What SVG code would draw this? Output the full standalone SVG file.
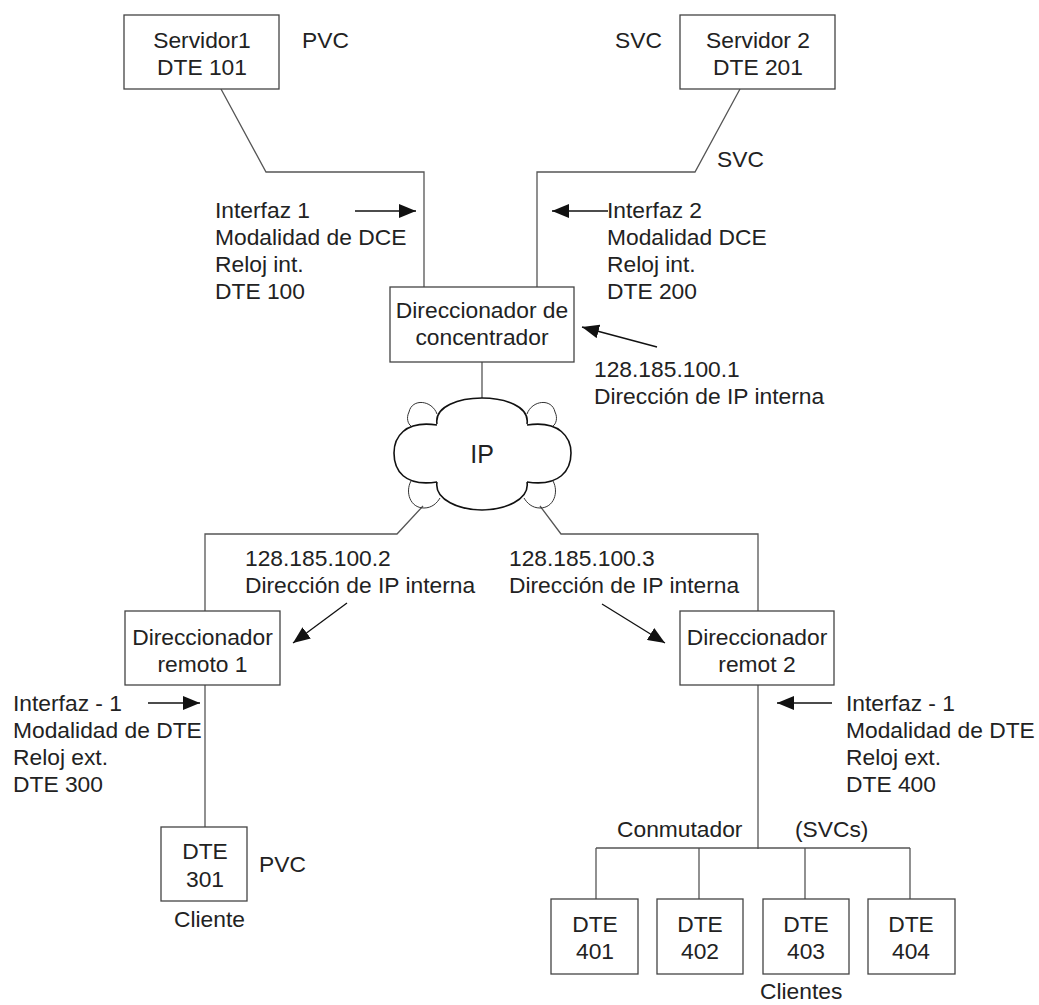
<svg xmlns="http://www.w3.org/2000/svg" width="1039" height="1005" viewBox="0 0 1039 1005">
<defs>
<marker id="ah" markerUnits="userSpaceOnUse" markerWidth="17" markerHeight="14" refX="17" refY="7" orient="auto">
<path d="M0,0 L17,7 L0,14 z" fill="#111"/>
</marker>
<style>
text{font-family:"Liberation Sans",Arial,Helvetica,sans-serif;font-size:22.8px;fill:#222}
.c{text-anchor:middle}
.box{fill:#fff;stroke:#444;stroke-width:1.3}
.ln{fill:none;stroke:#555;stroke-width:1.3}
.ar{fill:none;stroke:#111;stroke-width:1.3;marker-end:url(#ah)}
.cl{fill:none;stroke:#111;stroke-width:1.6}
.cl2{fill:none;stroke:#333;stroke-width:1}
</style>
</defs>
<rect width="1039" height="1005" fill="#fff"/>

<g id="connectors">
<polyline class="ln" points="221,89 266,172 424,172 424,287"/>
<polyline class="ln" points="740,89 695,172 537,172 537,287"/>
<line class="ln" x1="482" y1="362" x2="482" y2="398"/>
<polyline class="ln" points="423,506 397,534 205,534 205,611"/>
<polyline class="ln" points="540,506 561,534 758,534 758,611"/>
<line class="ln" x1="205" y1="685" x2="205" y2="827"/>
<line class="ln" x1="758" y1="685" x2="758" y2="849"/>
<line class="ln" x1="596" y1="848" x2="910" y2="848"/>
<line class="ln" x1="596" y1="848" x2="596" y2="899"/>
<line class="ln" x1="699" y1="848" x2="699" y2="899"/>
<line class="ln" x1="805" y1="848" x2="805" y2="899"/>
<line class="ln" x1="910" y1="848" x2="910" y2="899"/>
<line class="ar" x1="355" y1="211" x2="416" y2="211"/>
<line class="ar" x1="608" y1="211" x2="552" y2="211"/>
<line class="ar" x1="657" y1="347" x2="582" y2="327"/>
<line class="ar" x1="347" y1="603" x2="293" y2="643"/>
<line class="ar" x1="602" y1="604" x2="665" y2="643"/>
<line class="ar" x1="148" y1="703" x2="200" y2="703"/>
<line class="ar" x1="832" y1="703" x2="777" y2="703"/>
</g>

<g id="srv1">
<rect class="box" x="124" y="15" width="155" height="74"/>
<text class="c" x="202" y="48">Servidor1</text>
<text class="c" x="202" y="75">DTE 101</text>
</g>
<g id="srv2">
<rect class="box" x="680" y="15" width="155" height="74"/>
<text class="c" x="758" y="48">Servidor 2</text>
<text class="c" x="758" y="75">DTE 201</text>
</g>
<g id="conc">
<rect class="box" x="390" y="287" width="184" height="75"/>
<text class="c" x="482" y="318">Direccionador de</text>
<text class="c" x="482" y="345">concentrador</text>
</g>
<g id="cloud">
<path class="cl2" d="M437,414 C432,400 412,398 409,412 C406,418 408,424 411,426"/>
<path class="cl2" d="M527,414 C532,400 552,398 555,412 C558,418 556,424 553,426"/>
<path class="cl2" d="M411,481 C405,492 410,508 424,508 C432,508 437,503 440,498"/>
<path class="cl2" d="M553,481 C559,492 554,508 540,508 C532,508 527,503 524,498"/>
<path class="cl" d="M437,424 C434,406 460,398 482,398 C504,398 530,406 527,424"/>
<path class="cl" d="M527,425 C560,420 571,438 571,453 C571,470 560,487 527,482"/>
<path class="cl" d="M527,482 C530,500 504,510 482,510 C460,510 434,500 437,482"/>
<path class="cl" d="M437,482 C404,487 394,470 394,453 C394,438 404,420 437,425"/>
<text class="c" x="482" y="463" style="font-size:25px">IP</text>
</g>
<g id="rem1">
<rect class="box" x="125" y="611" width="155" height="74"/>
<text class="c" x="202.5" y="645">Direccionador</text>
<text class="c" x="202.5" y="672">remoto 1</text>
</g>
<g id="rem2">
<rect class="box" x="680" y="611" width="154" height="74"/>
<text class="c" x="757" y="645">Direccionador</text>
<text class="c" x="757" y="672">remot 2</text>
</g>
<g id="dte301">
<rect class="box" x="161" y="827" width="86" height="74"/>
<text class="c" x="205" y="859">DTE</text>
<text class="c" x="205" y="887">301</text>
</g>
<g id="dte401">
<rect class="box" x="551" y="899" width="87" height="75"/>
<text class="c" x="595" y="932">DTE</text>
<text class="c" x="595" y="959">401</text>
</g>
<g id="dte402">
<rect class="box" x="657" y="899" width="86" height="75"/>
<text class="c" x="700" y="932">DTE</text>
<text class="c" x="700" y="959">402</text>
</g>
<g id="dte403">
<rect class="box" x="763" y="899" width="86" height="75"/>
<text class="c" x="806" y="932">DTE</text>
<text class="c" x="806" y="959">403</text>
</g>
<g id="dte404">
<rect class="box" x="868" y="899" width="87" height="75"/>
<text class="c" x="911" y="932">DTE</text>
<text class="c" x="911" y="959">404</text>
</g>

<g id="labels">
<text x="302" y="48">PVC</text>
<text x="615" y="48">SVC</text>
<text x="717" y="167">SVC</text>
<text x="215" y="218">Interfaz 1</text>
<text x="215" y="245">Modalidad de DCE</text>
<text x="215" y="272">Reloj int.</text>
<text x="215" y="299">DTE 100</text>
<text x="607" y="218">Interfaz 2</text>
<text x="607" y="245">Modalidad DCE</text>
<text x="607" y="272">Reloj int.</text>
<text x="607" y="299">DTE 200</text>
<text x="594" y="377">128.185.100.1</text>
<text x="594" y="404">Dirección de IP interna</text>
<text x="245" y="566">128.185.100.2</text>
<text x="245" y="593">Dirección de IP interna</text>
<text x="509" y="566">128.185.100.3</text>
<text x="509" y="593">Dirección de IP interna</text>
<text x="13" y="711">Interfaz - 1</text>
<text x="13" y="738">Modalidad de DTE</text>
<text x="13" y="765">Reloj ext.</text>
<text x="13" y="792">DTE 300</text>
<text x="846" y="711">Interfaz - 1</text>
<text x="846" y="738">Modalidad de DTE</text>
<text x="846" y="765">Reloj ext.</text>
<text x="846" y="792">DTE 400</text>
<text x="259" y="872">PVC</text>
<text x="174" y="927">Cliente</text>
<text x="617" y="837">Conmutador</text>
<text x="795" y="837">(SVCs)</text>
<text x="760" y="999">Clientes</text>
</g>
</svg>
